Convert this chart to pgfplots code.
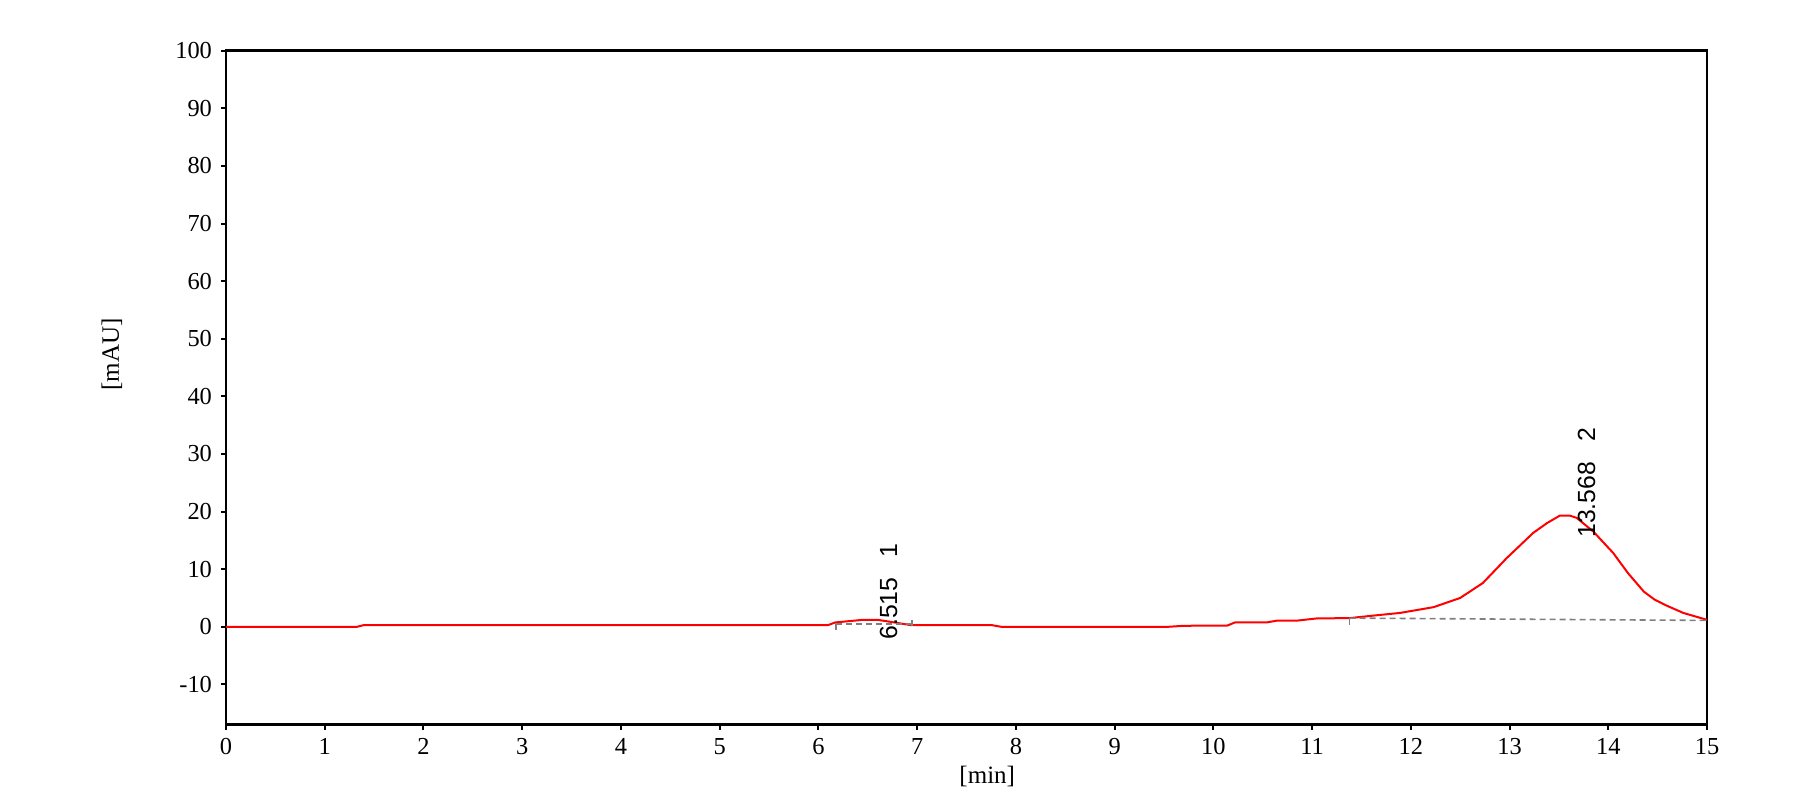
\documentclass[border=0pt]{standalone}
\usepackage{pgfplots}
\pgfplotsset{compat=1.18}
\usepackage{fontspec}
\setmainfont{Liberation Serif}
\newfontfamily\arialfont{Liberation Sans}

\begin{document}
\begin{tikzpicture}
	\begin{axis}[
		scale only axis,
		width=740.5pt,
		height=337pt,
		xmin=0, xmax=15,
		ymin=-17, ymax=100,
		xtick={0,1,...,15},
		ytick={-10,0,10,...,100},
		tick align=outside,
		xtick pos=bottom,
		ytick pos=left,
		major tick length=2.5pt,
		every tick/.style={black, line width=1pt},
		axis line style={line width=1.2pt},
		/pgf/number format/assume math mode=true,
		tick label style={font=\fontsize{12.2}{14}\selectfont},
		xticklabel style={yshift=-1pt},
		yticklabel style={xshift=-1pt},
		xlabel={[min]},
		ylabel={[mAU]},
		every axis x label/.style={at={(axis description cs:0.514,-0.077)}, anchor=center, font=\fontsize{12.5}{14}\selectfont},
		every axis y label/.style={at={(axis description cs:-0.077,0.549)}, rotate=90, anchor=center, font=\fontsize{12.5}{14}\selectfont},
		clip=false,
	]
		% chromatogram trace
		\addplot[red, line width=1pt] coordinates {
			(0,0) (1.33,0) (1.4,0.3) (6.1,0.3) (6.17,0.75) (6.45,1.2) (6.6,1.2)
			(6.75,0.8) (6.93,0.3) (7.75,0.3) (7.85,0) (9.55,0) (9.7,0.17)
			(10.14,0.2) (10.22,0.75) (10.54,0.75) (10.64,1.05) (10.84,1.05)
			(11.05,1.45) (11.38,1.5) (11.6,1.9) (11.89,2.4) (12.23,3.4)
			(12.5,5.0) (12.73,7.6) (12.97,11.9) (13.24,16.3) (13.38,18.0)
			(13.51,19.3) (13.61,19.3) (13.68,18.9) (13.85,16.5) (14.05,12.8)
			(14.2,9.3) (14.36,6.1) (14.47,4.7) (14.6,3.6) (14.76,2.4) (15,1.2)
		};
		% integration baselines
		\addplot[gray, line width=0.8pt, dash pattern=on 3pt off 2pt] coordinates {(6.18,0.5) (6.95,0.5)};
		\addplot[gray, line width=0.8pt] coordinates {(6.18,0.6) (6.18,-0.5)};
		\addplot[gray, line width=0.8pt] coordinates {(6.95,1.2) (6.95,0.2)};
		\addplot[gray, line width=0.8pt, dash pattern=on 3pt off 2pt] coordinates {(11.38,1.5) (15,1.1)};
		\addplot[gray, line width=0.8pt] coordinates {(11.38,1.5) (11.38,0.3)};
		% peak labels
		\node[rotate=90, anchor=west, inner sep=0pt, font=\arialfont\fontsize{12.4}{14}\selectfont] at (axis cs:6.71,-2.3) {6.515\hspace{10pt}1};
		\node[rotate=90, anchor=west, inner sep=0pt, font=\arialfont\fontsize{12.4}{14}\selectfont] at (axis cs:13.78,15.4) {13.568\hspace{10pt}2};
		\coordinate (sw) at (rel axis cs:0,0);
		\coordinate (ne) at (rel axis cs:1,1);
	\end{axis}
	\pgfresetboundingbox
	\path ([shift={(-113pt,-40pt)}]sw) rectangle ([shift={(52.5pt,25.35pt)}]ne);
\end{tikzpicture}
\end{document}
